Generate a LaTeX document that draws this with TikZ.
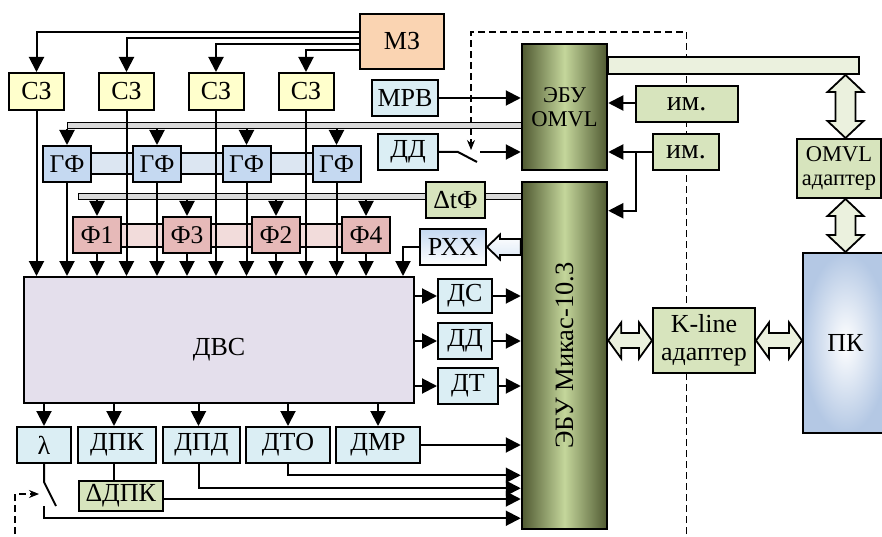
\documentclass[tikz,border=0pt]{standalone}
\usepackage{fontspec}
\setmainfont{Liberation Serif}
\usepackage{xcolor}
\definecolor{mzfill}{RGB}{250,212,178}
\definecolor{szfill}{RGB}{255,255,204}
\definecolor{gffill}{RGB}{197,217,241}
\definecolor{gfband}{RGB}{220,230,242}
\definecolor{ffill}{RGB}{230,185,184}
\definecolor{fband}{RGB}{242,220,219}
\definecolor{sensfill}{RGB}{219,238,244}
\definecolor{grfill}{RGB}{215,228,189}
\definecolor{grlight}{RGB}{235,241,222}
\definecolor{dvsfill}{RGB}{228,223,236}
\definecolor{ecudark}{RGB}{80,90,50}
\definecolor{eculight}{RGB}{196,214,155}
\definecolor{pkblue}{RGB}{180,200,228}
\definecolor{busgray}{RGB}{217,217,217}
\usepackage{tikz}
\usetikzlibrary{arrows.meta, positioning, calc}

\begin{document}
\begin{tikzpicture}[x=1pt, y=-1pt,
    box/.style={draw, line width=2pt, inner sep=0pt, align=center,
      font=\fontsize{26}{28}\selectfont},
    midtext/.style={font=\fontsize{25.5}{27}\selectfont},
    smalltext/.style={font=\fontsize{22.5}{24}\selectfont},
    ecu/.style={box, line width=2.5pt, left color=ecudark, right color=ecudark,
      middle color=eculight},
    bus/.style={draw, line width=1.4pt, fill=busgray, inner sep=0pt,
      minimum height=6pt, anchor=north west},
    band/.style={draw, line width=1.3pt},
    arrow/.style={line width=2pt, -{Triangle[length=15pt, width=15pt]}},
    wire/.style={line width=2pt},
    ctrl/.style={line width=1.1pt, dash pattern=on 7pt off 4pt,
      -{Stealth[length=10pt, width=8pt]}},
    hollow/.style={draw, line width=1.8pt, fill=grlight}
]
\useasboundingbox (0,0) rectangle (882,537);

%% Линии управления ключами (пунктир)
\coordinate (swtctl) at (471,150);
\coordinate (swlctl) at (39,494);
\draw[ctrl] (686.7,545) |- (471,32) -- (swtctl);
\draw[ctrl] (15,545) |- (swlctl);

%% Полосы и шины
\draw[band, fill=gfband] (43,153) rectangle (360,174);
\draw[band, fill=fband] (73,224) rectangle (390,247);
\node[bus, minimum width=455pt] (bus1) at (67,122) {};
\node[bus, minimum width=444pt] (bus2) at (78,193) {};
\node[bus, fill=grlight, line width=2pt, minimum width=250.5pt,
  minimum height=17pt] (omvlbar) at (607,56) {};

%% Зажигание
\node[box, fill=mzfill, minimum width=84pt, minimum height=55pt] (mz) at (402,41.5) {МЗ};
\node[box, fill=szfill, minimum width=55pt, minimum height=37pt] (sz1) at (36.5,91.5) {СЗ};
\node[box, fill=szfill, minimum width=55pt, minimum height=37pt] (sz2) at (126.5,91.5) {СЗ};
\node[box, fill=szfill, minimum width=55pt, minimum height=37pt] (sz3) at (216,91.5) {СЗ};
\node[box, fill=szfill, minimum width=55pt, minimum height=37pt] (sz4) at (306,91.5) {СЗ};

%% Газовые и бензиновые форсунки
\node[box, midtext, fill=gffill, minimum width=48pt, minimum height=36pt] (gf1) at (67,164) {ГФ};
\node[box, midtext, fill=gffill, minimum width=48pt, minimum height=36pt] (gf2) at (157,164) {ГФ};
\node[box, midtext, fill=gffill, minimum width=48pt, minimum height=36pt] (gf3) at (246.5,164) {ГФ};
\node[box, midtext, fill=gffill, minimum width=48pt, minimum height=36pt] (gf4) at (336.5,164) {ГФ};
\node[box, midtext, fill=ffill, minimum width=48pt, minimum height=36pt] (f1) at (97,235) {Ф1};
\node[box, midtext, fill=ffill, minimum width=48pt, minimum height=36pt] (f3) at (187,235) {Ф3};
\node[box, midtext, fill=ffill, minimum width=48pt, minimum height=36pt] (f2) at (276,235) {Ф2};
\node[box, midtext, fill=ffill, minimum width=48pt, minimum height=36pt] (f4) at (366,235) {Ф4};

%% Датчики и исполнительные блоки
\node[box, fill=sensfill, minimum width=66pt, minimum height=36pt] (mrv) at (405,98) {МРВ};
\node[box, fill=sensfill, minimum width=60pt, minimum height=36pt] (ddtop) at (408,152) {ДД};
\node[box, fill=grfill, minimum width=59pt, minimum height=36pt] (dtf) at (455.5,200) {ΔtФ};
\node[box, top color=gffill, bottom color=white, minimum width=66pt,
  minimum height=36pt] (rxx) at (453,247) {РХХ};
\node[box, fill=dvsfill, minimum width=390pt, minimum height=126pt] (dvs) at (219,340) {};
\node[font=\fontsize{26}{28}\selectfont] (dvslab) at ([yshift=-10pt]dvs.center) {ДВС};
\node[box, fill=sensfill, minimum width=54pt, minimum height=34pt] (ds) at (465,296) {ДС};
\node[box, fill=sensfill, minimum width=54pt, minimum height=36pt] (dd) at (465,341) {ДД};
\node[box, fill=sensfill, minimum width=60pt, minimum height=36pt] (dt) at (468,386) {ДТ};
\node[box, fill=sensfill, minimum width=54pt, minimum height=36pt] (lam) at (44,445) {λ};
\node[box, fill=sensfill, minimum width=77.5pt, minimum height=36pt] (dpk) at (117,445) {ДПК};
\node[box, fill=sensfill, minimum width=77pt, minimum height=36pt] (dpd) at (201.5,445) {ДПД};
\node[box, fill=sensfill, minimum width=84pt, minimum height=36pt] (dto) at (288,445) {ДТО};
\node[box, fill=sensfill, minimum width=84pt, minimum height=36pt] (dmr) at (378,445) {ДМР};
\node[box, fill=grfill, minimum width=84pt, minimum height=30pt] (ddpk) at (120.8,496) {ΔДПК};

%% Блоки управления
\node[ecu, smalltext, minimum width=85pt, minimum height=126pt] (ecuomvl) at (564.5,107) {ЭБУ\\OMVL};
\node[ecu, minimum width=85pt, minimum height=347pt] (mikas) at (564.5,355.5) {};
\node[rotate=90, font=\fontsize{26.5}{28}\selectfont] (mikaslab) at (mikas.center) {ЭБУ Микас-10.3};
\node[box, fill=grfill, font=\fontsize{28}{30}\selectfont, minimum width=102pt,
  minimum height=36pt] (im1) at (686.6,104) {им.};
\node[box, fill=grfill, font=\fontsize{28}{30}\selectfont, minimum width=66pt,
  minimum height=36pt] (im2) at (686,152) {им.};
\node[box, smalltext, fill=grfill, minimum width=84.5pt, minimum height=59pt] (omvlad) at (839,168.5) {OMVL\\адаптер};
\node[box, fill=grfill, minimum width=102pt, minimum height=65pt] (kline) at (704,340.5) {K-line\\адаптер};
\node[box, inner color=white, outer color=pkblue, minimum width=85pt,
  minimum height=180pt] (pk) at (845.5,343) {ПК};

%% Зажигание: МЗ -> СЗ -> ДВС
\draw[arrow] ([yshift=9.5pt]mz.west) -| (sz1.north);
\draw[arrow] ([yshift=3.5pt]mz.west) -| (sz2.north);
\draw[arrow] ([yshift=-2.5pt]mz.west) -| (sz3.north);
\draw[arrow] ([yshift=-8.5pt]mz.west) -| (sz4.north);
\draw[arrow] (sz1.south) -- (sz1.south |- dvs.north);
\draw[arrow] (sz2.south) -- (sz2.south |- dvs.north);
\draw[arrow] (sz3.south) -- (sz3.south |- dvs.north);
\draw[arrow] (sz4.south) -- (sz4.south |- dvs.north);

%% Шины к форсункам, форсунки -> ДВС
\draw[arrow] (bus1.south -| gf1.north) -- (gf1.north);
\draw[arrow] (bus1.south -| gf2.north) -- (gf2.north);
\draw[arrow] (bus1.south -| gf3.north) -- (gf3.north);
\draw[arrow] (bus1.south -| gf4.north) -- (gf4.north);
\draw[arrow] (bus2.south -| f1.north) -- (f1.north);
\draw[arrow] (bus2.south -| f3.north) -- (f3.north);
\draw[arrow] (bus2.south -| f2.north) -- (f2.north);
\draw[arrow] (bus2.south -| f4.north) -- (f4.north);
\draw[arrow] (gf1.south) -- (gf1.south |- dvs.north);
\draw[arrow] (gf2.south) -- (gf2.south |- dvs.north);
\draw[arrow] (gf3.south) -- (gf3.south |- dvs.north);
\draw[arrow] (gf4.south) -- (gf4.south |- dvs.north);
\draw[arrow] (f1.south) -- (f1.south |- dvs.north);
\draw[arrow] (f3.south) -- (f3.south |- dvs.north);
\draw[arrow] (f2.south) -- (f2.south |- dvs.north);
\draw[arrow] (f4.south) -- (f4.south |- dvs.north);
\draw[arrow] (rxx.west) -| ([xshift=-12pt]dvs.north east);
\draw[hollow, top color=white, bottom color=gffill!60]
  let \p1=(rxx.east), \p2=(rxx.east -| mikas.west) in
  (\x1,\y1) -- (\x1+13pt,\y1+12.5pt) -- (\x1+13pt,\y1+8pt) -- (\x2,\y1+8pt)
  -- (\x2,\y1-8pt) -- (\x1+13pt,\y1-8pt) -- (\x1+13pt,\y1-12.5pt) -- cycle;

%% Входы ЭБУ OMVL
\coordinate (swt1) at (458,152);
\coordinate (swt2) at (477,162);
\coordinate (swt3) at (480,152);
\draw[arrow] (mrv.east) -- (mrv.east -| ecuomvl.west);
\draw[wire] (ddtop.east) -- (swt1) -- (swt2);
\draw[arrow] (swt3) -- (swt3 -| ecuomvl.west);
\draw[arrow] ([yshift=1pt]im1.west) -- ([yshift=1pt]im1.west -| ecuomvl.east);
\coordinate (imbr) at (636,152);
\draw[arrow] (im2.west) -- (im2.west -| ecuomvl.east);
\draw[arrow] (imbr) |- ([yshift=-30pt]mikas.north east);

%% Датчики ДВС -> ЭБУ Микас
\draw[arrow] (ds.west -| dvs.east) -- (ds.west);
\draw[arrow] (dd.west -| dvs.east) -- (dd.west);
\draw[arrow] (dt.west -| dvs.east) -- (dt.west);
\draw[arrow] (ds.east) -- (ds.east -| mikas.west);
\draw[arrow] (dd.east) -- (dd.east -| mikas.west);
\draw[arrow] (dt.east) -- (dt.east -| mikas.west);
\draw[arrow] (lam.north |- dvs.south) -- (lam.north);
\draw[arrow] ([xshift=-3pt]dpk.north |- dvs.south) -- ([xshift=-3pt]dpk.north);
\draw[arrow] ([xshift=-3pt]dpd.north |- dvs.south) -- ([xshift=-3pt]dpd.north);
\draw[arrow] (dto.north |- dvs.south) -- (dto.north);
\draw[arrow] (dmr.north |- dvs.south) -- (dmr.north);
\draw[arrow] (dmr.east) -- (dmr.east -| mikas.west);
\draw[arrow] (dto.south) |- ([yshift=55pt]mikas.south west);
\draw[arrow] ([xshift=-3pt]dpd.south) |- ([yshift=42pt]mikas.south west);
\draw[wire] ([xshift=-3pt]dpk.south) -- ([xshift=-3pt]dpk.south |- ddpk.north);
\draw[arrow] ([yshift=-3pt]ddpk.east) -- ([yshift=-3pt]ddpk.east -| mikas.west);
\coordinate (swl1) at (44,482);
\coordinate (swl2) at (56,506);
\coordinate (swl3) at (44,506);
\draw[wire] (lam.south) -- (swl1) -- (swl2);
\draw[arrow] (swl3) |- ([yshift=12pt]mikas.south west);

%% Связь с ПК
\draw[hollow] let \p1=(omvlbar.south -| pk.north), \p2=(omvlad.north -| pk.north) in
  (\x1,\y1) -- (\x1+18pt,\y1-17pt) -- (\x1+10pt,\y1-17pt) -- (\x1+10pt,\y2+17pt)
  -- (\x1+18pt,\y2+17pt) -- (\x1,\y2) -- (\x1-18pt,\y2+17pt) -- (\x1-10pt,\y2+17pt)
  -- (\x1-10pt,\y1-17pt) -- (\x1-18pt,\y1-17pt) -- cycle;
\draw[hollow] let \p1=(omvlad.south -| pk.north), \p2=(pk.north) in
  (\x1,\y1) -- (\x1+18pt,\y1-17pt) -- (\x1+10pt,\y1-17pt) -- (\x1+10pt,\y2+17pt)
  -- (\x1+18pt,\y2+17pt) -- (\x1,\y2) -- (\x1-18pt,\y2+17pt) -- (\x1-10pt,\y2+17pt)
  -- (\x1-10pt,\y1-17pt) -- (\x1-18pt,\y1-17pt) -- cycle;
\draw[hollow] let \p1=(mikas.east |- kline.west), \p2=(kline.west) in
  (\x1,\y1) -- (\x1+13pt,\y1+18pt) -- (\x1+13pt,\y1+7.5pt) -- (\x2-13pt,\y1+7.5pt)
  -- (\x2-13pt,\y1+18pt) -- (\x2,\y1) -- (\x2-13pt,\y1-18pt) -- (\x2-13pt,\y1-7.5pt)
  -- (\x1+13pt,\y1-7.5pt) -- (\x1+13pt,\y1-18pt) -- cycle;
\draw[hollow] let \p1=(kline.east), \p2=(kline.east -| pk.west) in
  (\x1,\y1) -- (\x1+13pt,\y1+18pt) -- (\x1+13pt,\y1+7.5pt) -- (\x2-13pt,\y1+7.5pt)
  -- (\x2-13pt,\y1+18pt) -- (\x2,\y1) -- (\x2-13pt,\y1-18pt) -- (\x2-13pt,\y1-7.5pt)
  -- (\x1+13pt,\y1-7.5pt) -- (\x1+13pt,\y1-18pt) -- cycle;
\end{tikzpicture}
\end{document}
